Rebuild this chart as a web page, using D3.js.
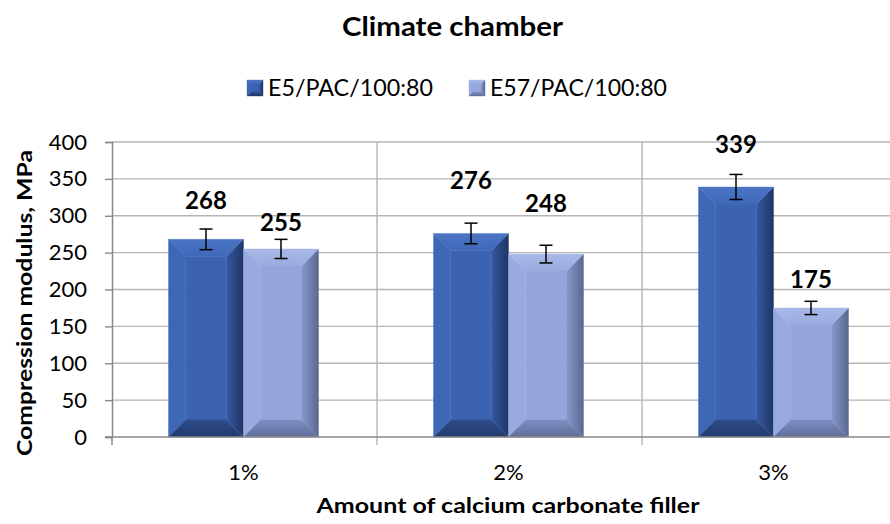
<!DOCTYPE html>
<html><head><meta charset="utf-8">
<script src="https://cdn.jsdelivr.net/npm/d3@7/dist/d3.min.js"></script>
<style>body{margin:0;background:#fff}svg{display:block}text{font-family:Lato,"Open Sans",sans-serif}</style>
</head><body>
<svg id="c" width="890" height="524"></svg>
<script>
const categories = ["1%", "2%", "3%"];
const seriesNames = ["E5/PAC/100:80", "E57/PAC/100:80"];
const series1 = [268, 276, 339];
const series2 = [255, 248, 175];
const err1 = [14, 14, 17];
const err2 = [13, 12, 9];
const yTicks = [0, 50, 100, 150, 200, 250, 300, 350, 400];

const svg = d3.select("#c");
const W = 890, H = 524;
const pLeft = 112, bandW = 265, pTop = 142, pBottom = 437;
const x = d3.scaleBand().domain(categories).range([pLeft, pLeft + bandW * 3]);
const y = d3.scaleLinear().domain([0, 400]).range([pBottom, pTop]);
const x1 = d3.scaleBand().domain([0, 1]).range([0, 150]);

const pal = [
  {face:"#3b63b1", top:"#4a74c4", topIn:"#3f69b8", bot:"#2d4c8c", botOut:"#22396c", l:"#3e67b5", r:"#3558a0", rOut:"#1f3566"},
  {face:"#94a6dc", top:"#a7b8e8", topIn:"#9aacdf", bot:"#7d8fc2", botOut:"#5f6d98", l:"#98aae0", r:"#8798cb", rOut:"#5a6890"}
];
const data = [series1, series2];
const errs = [err1, err2];
// label lift above bar top (px), as placed in the source chart
const labelLift = [[30, 44, 34], [18, 42, 20]];

const defs = svg.append("defs");
pal.forEach((p, s) => {
  const mk = (id, x1_, y1_, x2_, y2_, c1, c2) => {
    const g = defs.append("linearGradient").attr("id", id)
      .attr("x1", x1_).attr("y1", y1_).attr("x2", x2_).attr("y2", y2_);
    g.append("stop").attr("offset", 0).attr("stop-color", c1);
    g.append("stop").attr("offset", 1).attr("stop-color", c2);
  };
  mk(`gr${s}`, 0, 0, 1, 0, p.r, p.rOut);
  mk(`gt${s}`, 0, 0, 0, 1, p.top, p.topIn);
  mk(`gb${s}`, 0, 0, 0, 1, p.bot, p.botOut);
});

svg.append("g").selectAll("line").data(yTicks.slice(1)).join("line")
  .attr("x1", pLeft).attr("x2", W).attr("y1", d => y(d)).attr("y2", d => y(d))
  .attr("stroke", "#b5b5b5").attr("stroke-width", 1.4);
svg.append("g").selectAll("line").data(categories.slice(1)).join("line")
  .attr("x1", d => x(d)).attr("x2", d => x(d)).attr("y1", pTop).attr("y2", pBottom + 8)
  .attr("stroke", "#b5b5b5").attr("stroke-width", 1.4);

function facets(x0, y0, w, h, bvl) {
  const b = Math.min(bvl, h / 2, w / 2);
  const xe = x0 + w, ye = y0 + h;
  return {
    top: [[x0,y0],[xe,y0],[xe-b,y0+b],[x0+b,y0+b]],
    bot: [[x0,ye],[xe,ye],[xe-b,ye-b],[x0+b,ye-b]],
    l: [[x0,y0],[x0+b,y0+b],[x0+b,ye-b],[x0,ye]],
    r: [[xe,y0],[xe-b,y0+b],[xe-b,ye-b],[xe,ye]],
    face: [[x0+b,y0+b],[xe-b,y0+b],[xe-b,ye-b],[x0+b,ye-b]]
  };
}
const line = d3.line();
function drawBar(g, s, bx, by, bw, bh, bvl) {
  const f = facets(bx, by, bw, bh, bvl);
  const fills = {face: pal[s].face, l: pal[s].l, r: `url(#gr${s})`, top: `url(#gt${s})`, bot: `url(#gb${s})`};
  ["face", "l", "r", "top", "bot"].forEach(k => {
    g.append("path").attr("d", line(f[k]) + "Z").attr("fill", fills[k])
      .attr("stroke", fills[k]).attr("stroke-width", 0.4);
  });
}
const gBars = svg.append("g");
const gLab = svg.append("g");
data.forEach((vals, s) => {
  vals.forEach((v, i) => {
    const bw = x1.bandwidth();
    const bx = x(categories[i]) + (bandW - 150) / 2 + x1(s) - 1;
    drawBar(gBars, s, bx, y(v), bw, y(0) - y(v), 17);
    const cx = bx + bw / 2;
    const e = errs[s][i];
    const ge = gLab.append("g").attr("stroke", "#000").attr("stroke-width", 1.5);
    ge.append("line").attr("x1", cx).attr("x2", cx).attr("y1", y(v + e)).attr("y2", y(v - e));
    ge.append("line").attr("x1", cx - 6.5).attr("x2", cx + 6.5).attr("y1", y(v + e)).attr("y2", y(v + e));
    ge.append("line").attr("x1", cx - 6.5).attr("x2", cx + 6.5).attr("y1", y(v - e)).attr("y2", y(v - e));
    gLab.append("text").attr("x", cx).attr("y", y(v) - labelLift[s][i])
      .attr("text-anchor", "middle").attr("font-weight", "bold").attr("font-size", 24)
      .attr("fill", "#000").text(v);
  });
});

const yAxis = d3.axisLeft(y).tickValues(yTicks).tickSize(7).tickPadding(18);
const gy = svg.append("g").attr("transform", `translate(${pLeft},0)`).call(yAxis);
gy.select(".domain").attr("stroke", "#888").attr("stroke-width", 1.5);
gy.selectAll(".tick line").attr("stroke", "#888").attr("stroke-width", 1.4);
gy.selectAll(".tick text").attr("font-size", 22).attr("fill", "#000")
  .style("font-family", "Lato, 'Open Sans', sans-serif");

svg.append("line").attr("x1", pLeft - 7).attr("x2", W).attr("y1", pBottom).attr("y2", pBottom)
  .attr("stroke", "#888").attr("stroke-width", 1.5);
svg.append("line").attr("x1", pLeft).attr("x2", pLeft).attr("y1", pBottom).attr("y2", pBottom + 8)
  .attr("stroke", "#888").attr("stroke-width", 1.5);
svg.append("g").selectAll("text").data(categories).join("text")
  .attr("x", d => x(d) + bandW / 2 - 1).attr("y", 480).attr("text-anchor", "middle")
  .attr("font-size", 22).attr("fill", "#000").text(d => d);

svg.append("text").attr("x", 452.5).attr("y", 36).attr("text-anchor", "middle")
  .attr("font-weight", "bold").attr("font-size", 26)
  .attr("textLength", 221).attr("lengthAdjust", "spacingAndGlyphs").text("Climate chamber");
svg.append("text").attr("x", 508).attr("y", 513).attr("text-anchor", "middle")
  .attr("font-weight", "bold").attr("font-size", 21)
  .attr("textLength", 383).attr("lengthAdjust", "spacingAndGlyphs").text("Amount of calcium carbonate filler");
svg.append("text").attr("transform", "translate(32,303) rotate(-90)").attr("text-anchor", "middle")
  .attr("font-weight", "bold").attr("font-size", 21)
  .attr("textLength", 306).attr("lengthAdjust", "spacingAndGlyphs").text("Compression modulus, MPa");

const legX = [247, 469];
const legLen = [165, 177];
seriesNames.forEach((n, s) => {
  const g = svg.append("g").attr("transform", `translate(${legX[s]},80)`);
  drawBar(g, s, 0, 0, 16, 16, 4);
  g.append("text").attr("x", 21).attr("y", 16).attr("font-size", 23.5)
    .attr("textLength", legLen[s]).attr("lengthAdjust", "spacingAndGlyphs").text(n);
});
</script>
</body></html>
